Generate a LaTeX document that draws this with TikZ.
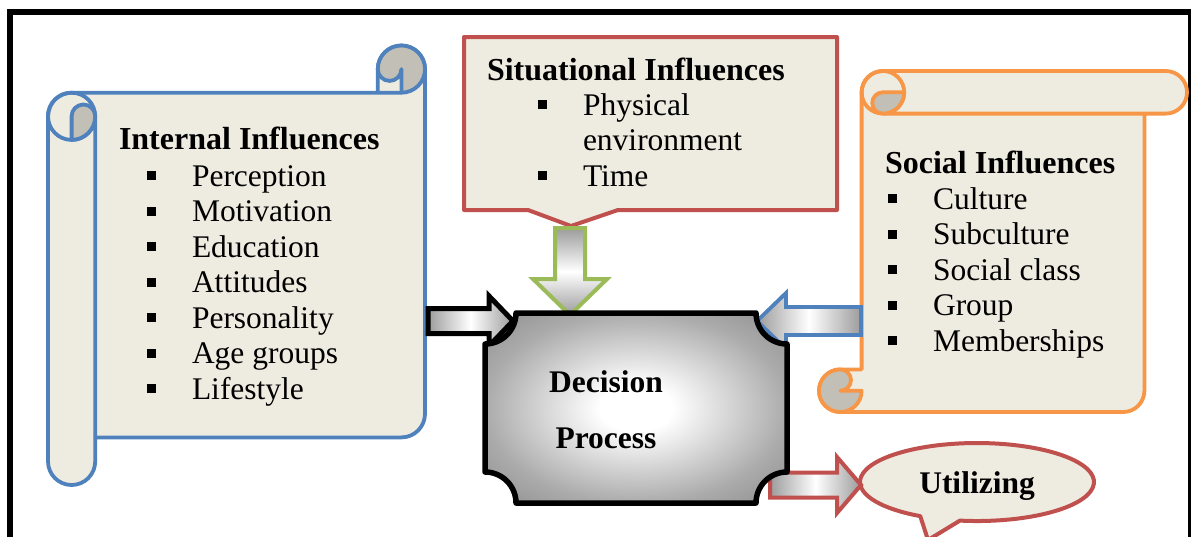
\documentclass[tikz,border=0pt]{standalone}
\usepackage{fontspec}
\setmainfont{Liberation Serif}
\definecolor{bgtwo}{HTML}{EEECE1}
\definecolor{rollgrey}{HTML}{C2C0B6}
\definecolor{oblue}{HTML}{4F81BD}
\definecolor{ored}{HTML}{C0504D}
\definecolor{oorange}{HTML}{F79646}
\definecolor{ogreen}{HTML}{9BBB59}
\definecolor{agrey}{HTML}{9C9C9C}
\newcommand{\myreg}{\fontsize{31.5pt}{35.5pt}\selectfont}
\newcommand{\myhead}{\fontsize{32pt}{35.5pt}\selectfont\bfseries}
\newcommand{\mybold}{\fontsize{31.5pt}{35.5pt}\selectfont\bfseries}
\newcommand{\mysq}{\makebox[45.5pt][l]{\rule[6pt]{9pt}{9pt}}}
\pgfdeclareradialshading{plaqueshade}{\pgfpointorigin}{color(0bp)=(white); color(6bp)=(white); color(25bp)=(black!33); color(36bp)=(black!45); color(50bp)=(black!45)}
\tikzset{
  scroll/.style={line width=3.8pt, line join=round, fill=bgtwo},
  roll/.style={line width=3.8pt, line join=round, fill=rollgrey},
  callout/.style={line width=4pt, draw=ored, fill=bgtwo, line join=round},
  harrow/.style={left color=agrey, right color=agrey, middle color=white, line join=miter},
  varrow/.style={top color=agrey, bottom color=agrey, middle color=white, line join=miter},
  item/.style={anchor=base west, inner sep=0pt, outer sep=0pt, font=\myreg},
  head/.style={anchor=base west, inner sep=0pt, outer sep=0pt, font=\myhead},
  ctext/.style={anchor=base, inner sep=0pt, outer sep=0pt, font=\mybold},
}
\begin{document}
\begin{tikzpicture}[x=1pt, y=1pt, yscale=-1]
\useasboundingbox (0,0) rectangle (1191,536);
% frame
\draw[line width=6pt, line join=miter] (10,545) -- (10,12) -- (1195,12);
\draw[line width=2.5pt] (1189.5,12) -- (1189.5,545);

% ---------- Internal influences (vertical scroll) ----------
\filldraw[scroll, draw=oblue] (48,116.3) arc[start angle=180, end angle=270, radius=23.6]
  -- (377.8,92.7) -- (377.8,69.1) arc[start angle=180, end angle=360, radius=23.6]
  -- (425,413.8) arc[start angle=0, end angle=90, radius=23.6]
  -- (95.2,437.4) -- (95.2,461.4) arc[start angle=0, end angle=180, radius=23.6] -- cycle;
\draw[line width=3.8pt, draw=oblue] (95.2,116.3) -- (95.2,437.4)
  (71.6,116.3) circle[radius=23.6]
  (377.8,92.7) -- (401.4,92.7);
\filldraw[roll, draw=oblue] (71.6,116.3) arc[start angle=180, end angle=360, radius=11.8]
  arc[start angle=0, end angle=90, radius=23.6] -- cycle;
\filldraw[roll, draw=oblue] (377.8,69.1) arc[start angle=180, end angle=450, radius=23.6]
  -- (401.4,69.1) arc[start angle=0, end angle=180, radius=11.8] -- cycle;

\node[head] (inthead) at (119,149) {Internal Influences};
\foreach \t/\y [count=\i] in {Perception/186, Motivation/221.5, Education/257, Attitudes/292.5, Personality/328, Age groups/363.5, Lifestyle/399}
  \node[item] (int\i) at (146.5,\y) {\mysq\t};

% ---------- Social influences (horizontal scroll) ----------
\filldraw[scroll, draw=oorange] (861.6,92.3) arc[start angle=180, end angle=270, radius=21.3]
  -- (1165.7,71) arc[start angle=270, end angle=450, radius=21.3]
  -- (1144.4,113.6) -- (1144.4,390.7) arc[start angle=0, end angle=90, radius=21.3]
  -- (840.3,412) arc[start angle=90, end angle=270, radius=21.3]
  -- (861.6,369.4) -- cycle;
\draw[line width=3.8pt, draw=oorange] (1144.4,113.6) -- (882.9,113.6)
  (882.9,92.3) circle[radius=21.3];
\filldraw[roll, draw=oorange] (882.9,92.3) -- (904.2,92.3) arc[start angle=0, end angle=90, radius=21.3]
  arc[start angle=90, end angle=270, radius=10.65] -- cycle;
\filldraw[roll, draw=oorange] (840.3,369.4) arc[start angle=270, end angle=0, radius=21.3]
  -- (840.3,390.7) arc[start angle=90, end angle=-90, radius=10.65] -- cycle;

\node[head] (sochead) at (885,173) {Social Influences};
\foreach \t/\y [count=\i] in {Culture/209, Subculture/244.5, Social class/280, Group/315.5, Memberships/351}
  \node[item] (soc\i) at (887.5,\y) {\mysq\t};

% ---------- Situational influences (callout) ----------
\filldraw[callout] (464,37) -- (837,37) -- (837,210) -- (618,210) -- (571,226) -- (528,210) -- (464,210) -- cycle;
\node[head] (sithead) at (487,80) {Situational Influences};
\node[item] (sit1) at (537.5,115) {\mysq Physical};
\node[item] (sit2) at (583,150) {environment};
\node[item] (sit3) at (537.5,186) {\mysq Time};

% ---------- Utilizing (ellipse callout) ----------
\filldraw[callout] (959.9,520.6) arc[start angle=98.4, end angle=-241, x radius=117, y radius=39] -- (928,540) -- cycle;
\node[ctext] (util) at (977,493) {Utilizing};

% ---------- block arrows ----------
\shadedraw[harrow, draw=black, line width=5pt] (428,308.5) -- (489,308.5) -- (489,296) -- (513,321) -- (489,346) -- (489,333.5) -- (428,333.5) -- cycle;
\shadedraw[harrow, draw=oblue, line width=3.8pt] (861,307) -- (786,307) -- (786,293) -- (757,321) -- (786,349) -- (786,335) -- (861,335) -- cycle;
\shadedraw[varrow, draw=ogreen, line width=4pt] (555,228) -- (585,228) -- (585,279) -- (607,279) -- (570,315) -- (533,279) -- (555,279) -- cycle;
\shadedraw[harrow, draw=ored, line width=4pt] (770,472.5) -- (837,472.5) -- (837,457) -- (861,485) -- (837,513) -- (837,497.5) -- (770,497.5) -- cycle;

% ---------- Decision process (plaque) ----------
\path[shading=plaqueshade, draw=black, line width=5.5pt, line join=round]
  (516,313) -- (756,313) arc[start angle=180, end angle=90, radius=31]
  -- (787,472) arc[start angle=270, end angle=180, radius=31]
  -- (516,503) arc[start angle=0, end angle=-90, radius=31]
  -- (485,344) arc[start angle=90, end angle=0, radius=31] -- cycle;
\node[ctext] (dec1) at (606,392) {Decision};
\node[ctext] (dec2) at (606,448) {Process};
\end{tikzpicture}
\end{document}
